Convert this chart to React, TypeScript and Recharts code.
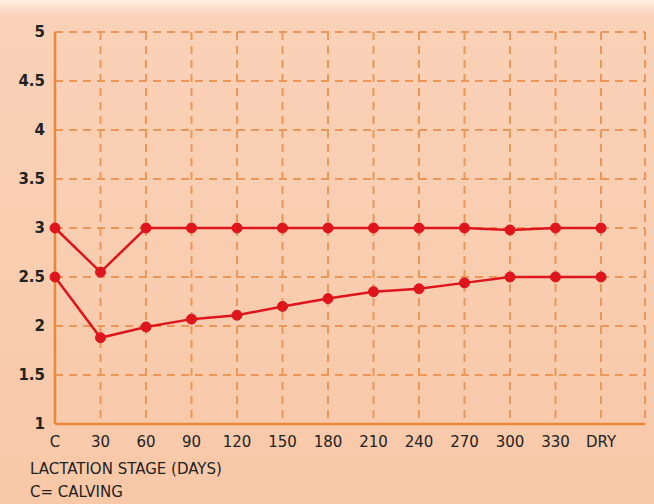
import React from "react";
import { LineChart, Line, XAxis, YAxis, CartesianGrid } from "recharts";

const stages = ["C", "30", "60", "90", "120", "150", "180", "210", "240", "270", "300", "330", "DRY"];
const upperScore = [3, 2.55, 3, 3, 3, 3, 3, 3, 3, 3, 2.98, 3, 3];
const lowerScore = [2.5, 1.88, 1.99, 2.07, 2.11, 2.2, 2.28, 2.35, 2.38, 2.44, 2.5, 2.5, 2.5];
const yTicks = [1, 1.5, 2, 2.5, 3, 3.5, 4, 4.5, 5];

const data = stages.map((stage, i) => ({
  stage,
  upper: upperScore[i],
  lower: lowerScore[i],
}));

const ORANGE = "#e8883a";
const GRID = "#eb975a";
const RED = "#de151c";
const FONT = "'Comic Sans MS', 'DejaVu Sans', sans-serif";

export default function App() {
  return (
    <div
      style={{
        position: "absolute",
        top: 0,
        left: 0,
        width: 654,
        height: 504,
        background: "linear-gradient(180deg, #fdeee3 0px, #fad2b8 16px, #f8c8a8 504px)",
        fontFamily: FONT,
      }}
    >
      <LineChart
        width={654}
        height={504}
        data={data}
        margin={{ top: 32, right: 9, left: 0, bottom: 50 }}
      >
        <CartesianGrid stroke={GRID} strokeWidth={2} strokeDasharray="8 6" />
        <XAxis
          dataKey="stage"
          padding={{ left: 0, right: 44 }}
          axisLine={{ stroke: ORANGE, strokeWidth: 2.5 }}
          tickLine={false}
          height={30}
          tick={{ fill: "#222", fontSize: 15, fontFamily: FONT }}
          tickMargin={6}
          interval={0}
        />
        <YAxis
          domain={[1, 5]}
          ticks={yTicks}
          width={55}
          axisLine={{ stroke: ORANGE, strokeWidth: 2.5 }}
          tickLine={false}
          tick={{ fill: "#222", fontSize: 15, fontWeight: "bold", fontFamily: FONT }}
          tickMargin={4}
        />
        <YAxis
          yAxisId="r"
          orientation="right"
          domain={[1, 5]}
          width={0}
          tick={false}
          tickLine={false}
          axisLine={{ stroke: ORANGE, strokeWidth: 2 }}
        />
        <Line
          dataKey="upper"
          stroke={RED}
          strokeWidth={2.5}
          dot={{ r: 5, fill: RED, stroke: RED, strokeWidth: 1 }}
          isAnimationActive={false}
        />
        <Line
          dataKey="lower"
          stroke={RED}
          strokeWidth={2.5}
          dot={{ r: 5, fill: RED, stroke: RED, strokeWidth: 1 }}
          isAnimationActive={false}
        />
      </LineChart>
      <div style={{ position: "absolute", left: 30, top: 460, fontSize: 15, color: "#222" }}>
        LACTATION STAGE (DAYS)
      </div>
      <div style={{ position: "absolute", left: 30, top: 483, fontSize: 15, color: "#222" }}>
        C= CALVING
      </div>
    </div>
  );
}
